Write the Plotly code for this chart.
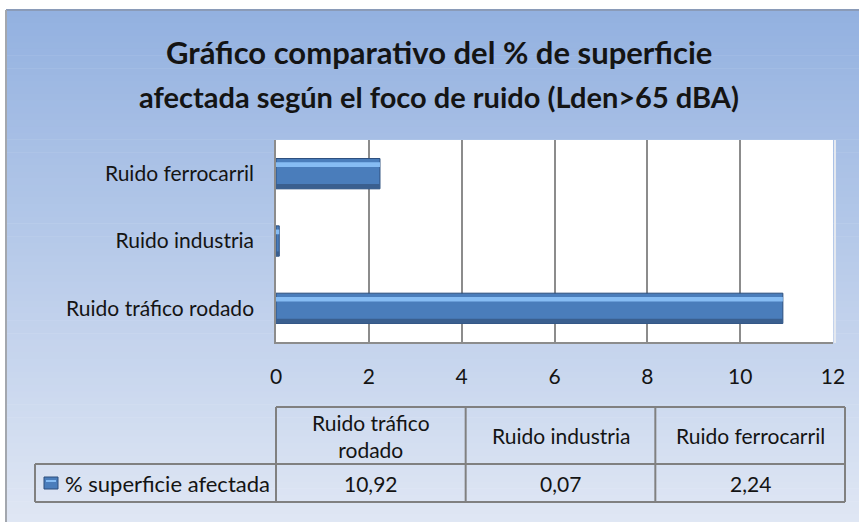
import plotly.graph_objects as go

# ---- data ----
categories = ["Ruido tráfico rodado", "Ruido industria", "Ruido ferrocarril"]
table_headers = ["Ruido tráfico<br>rodado", "Ruido industria", "Ruido ferrocarril"]
values = [10.92, 0.07, 2.24]
series_name = "% superficie afectada"
x_ticks = [0, 2, 4, 6, 8, 10, 12]
title_lines = ["Gráfico comparativo del % de superficie",
               "afectada según el foco de ruido (Lden>65 dBA)"]

# ---- geometry (pixels) ----
W, H = 859, 522
L, R, T, B = 276, 833, 140, 342
PW, PH = R - L, B - T


def px(x):
    return (x - L) / PW


def py(y):
    return (B - y) / PH


FONT = "Lato, Carlito, 'Noto Sans', sans-serif"
TXT = "#141414"

fig = go.Figure()

# main bar
fig.add_trace(go.Bar(
    y=categories, x=values, orientation="h", width=0.45,
    marker=dict(color="#4a7dbb", line=dict(color="#2c4f7d", width=1)),
    showlegend=False, hoverinfo="skip"))
# lower dark band
fig.add_trace(go.Bar(
    y=categories, x=values, orientation="h", width=0.07, offset=-0.225,
    marker=dict(color="#3a5f8f", line=dict(width=0)),
    showlegend=False, hoverinfo="skip"))
# upper highlight
fig.add_trace(go.Bar(
    y=categories, x=values, orientation="h", width=0.07, offset=0.10,
    marker=dict(color="#86bcf3", line=dict(width=0)),
    showlegend=False, hoverinfo="skip"))

shapes = []
# background gradient
top_c = (147, 177, 224)
bot_c = (224, 231, 244)
N = 80
for i in range(N):
    a = 10 + (H + 5 - 10) * i / N
    b = 10 + (H + 5 - 10) * (i + 1) / N + 0.6
    t = (i + 0.5) / N
    c = tuple(round(top_c[k] + (bot_c[k] - top_c[k]) * t) for k in range(3))
    shapes.append(dict(type="rect", xref="paper", yref="paper", layer="below",
                       x0=px(6), x1=px(W + 5), y0=py(b), y1=py(a),
                       line=dict(width=0), fillcolor="rgb(%d,%d,%d)" % c))
# outer border
shapes.append(dict(type="line", xref="paper", yref="paper", layer="below",
                   x0=px(6), x1=px(W + 5), y0=py(10), y1=py(10),
                   line=dict(color="#8a9bb8", width=2)))
shapes.append(dict(type="line", xref="paper", yref="paper", layer="below",
                   x0=px(6), x1=px(6), y0=py(10), y1=py(H + 5),
                   line=dict(color="#a3a7ae", width=2)))
# plot area white
shapes.append(dict(type="rect", xref="paper", yref="paper", layer="below",
                   x0=0, x1=1, y0=0, y1=1, line=dict(width=0), fillcolor="white"))
# plot area right shadow
shapes.append(dict(type="line", xref="paper", yref="paper", layer="below",
                   x0=px(R + 2), x1=px(R + 2), y0=py(B + 1), y1=1,
                   line=dict(color="#e4e8ef", width=2)))

# data table
GRID = "#808080"
tl, tr = 276, 845
ttop, tmid, tbot = 407, 464, 502
lleft = 35
colw = (tr - tl) / len(categories)
cols = [tl + colw * i for i in range(len(categories) + 1)]


def hline(y, xa, xb):
    shapes.append(dict(type="line", xref="paper", yref="paper",
                       x0=px(xa), x1=px(xb), y0=py(y), y1=py(y),
                       line=dict(color=GRID, width=2)))


def vline(x, ya, yb):
    shapes.append(dict(type="line", xref="paper", yref="paper",
                       x0=px(x), x1=px(x), y0=py(ya), y1=py(yb),
                       line=dict(color=GRID, width=2)))


hline(ttop, tl, tr)
hline(tmid, lleft, tr)
hline(tbot, lleft, tr)
vline(lleft, tmid, tbot)
for c in cols:
    vline(c, ttop, tbot)

# legend key square
shapes.append(dict(type="rect", xref="paper", yref="paper",
                   x0=px(44), x1=px(58), y0=py(489), y1=py(477),
                   line=dict(color="#2c4f7d", width=1), fillcolor="#4a7dbb"))
shapes.append(dict(type="rect", xref="paper", yref="paper",
                   x0=px(46), x1=px(56), y0=py(482), y1=py(480),
                   line=dict(width=0), fillcolor="#86bcf3"))

annotations = []
# title
title_sizes = [31, 29]
for i, line in enumerate(title_lines):
    annotations.append(dict(
        text="<b>%s</b>" % line, xref="paper", yref="paper",
        x=px(439), y=py(52 + 44 * i), xanchor="center", yanchor="middle",
        showarrow=False, font=dict(family=FONT, size=title_sizes[i], color=TXT)))
# table headers and values
for i, (h, v) in enumerate(zip(table_headers, values)):
    cx = (cols[i] + cols[i + 1]) / 2
    annotations.append(dict(
        text=h, xref="paper", yref="paper", x=px(cx), y=py((ttop + tmid) / 2),
        xanchor="center", yanchor="middle", showarrow=False,
        font=dict(family=FONT, size=21, color=TXT)))
    annotations.append(dict(
        text=("%.2f" % v).replace(".", ","), xref="paper", yref="paper",
        x=px(cx), y=py((tmid + tbot) / 2), xanchor="center", yanchor="middle",
        showarrow=False, font=dict(family=FONT, size=21, color=TXT)))
annotations.append(dict(
    text=series_name, xref="paper", yref="paper", x=px(63), y=py(483),
    xanchor="left", yanchor="middle", showarrow=False,
    font=dict(family=FONT, size=22, color=TXT)))

fig.update_layout(
    width=W, height=H,
    margin=dict(l=L, r=W - R, t=T, b=H - B, pad=0),
    paper_bgcolor="white", plot_bgcolor="rgba(0,0,0,0)",
    barmode="overlay", bargap=0.55,
    shapes=shapes, annotations=annotations,
    font=dict(family=FONT, size=21, color=TXT),
    xaxis=dict(range=[0, 12], tickvals=x_ticks, showgrid=True,
               gridcolor="#8c8c8c", gridwidth=1.5, zeroline=False,
               showline=True, linecolor="#8c8c8c", linewidth=1.5,
               ticks="", ticklabelstandoff=15,
               tickfont=dict(family=FONT, size=21, color=TXT)),
    yaxis=dict(showgrid=False, zeroline=False, showline=True,
               linecolor="#8c8c8c", linewidth=1.5, ticks="",
               ticklabelstandoff=16,
               tickfont=dict(family=FONT, size=21, color=TXT)),
)

fig.write_html("out.html",
               config={"displayModeBar": False},
               post_script="document.body.style.margin='0';"
                           "document.body.style.overflow='hidden';")
